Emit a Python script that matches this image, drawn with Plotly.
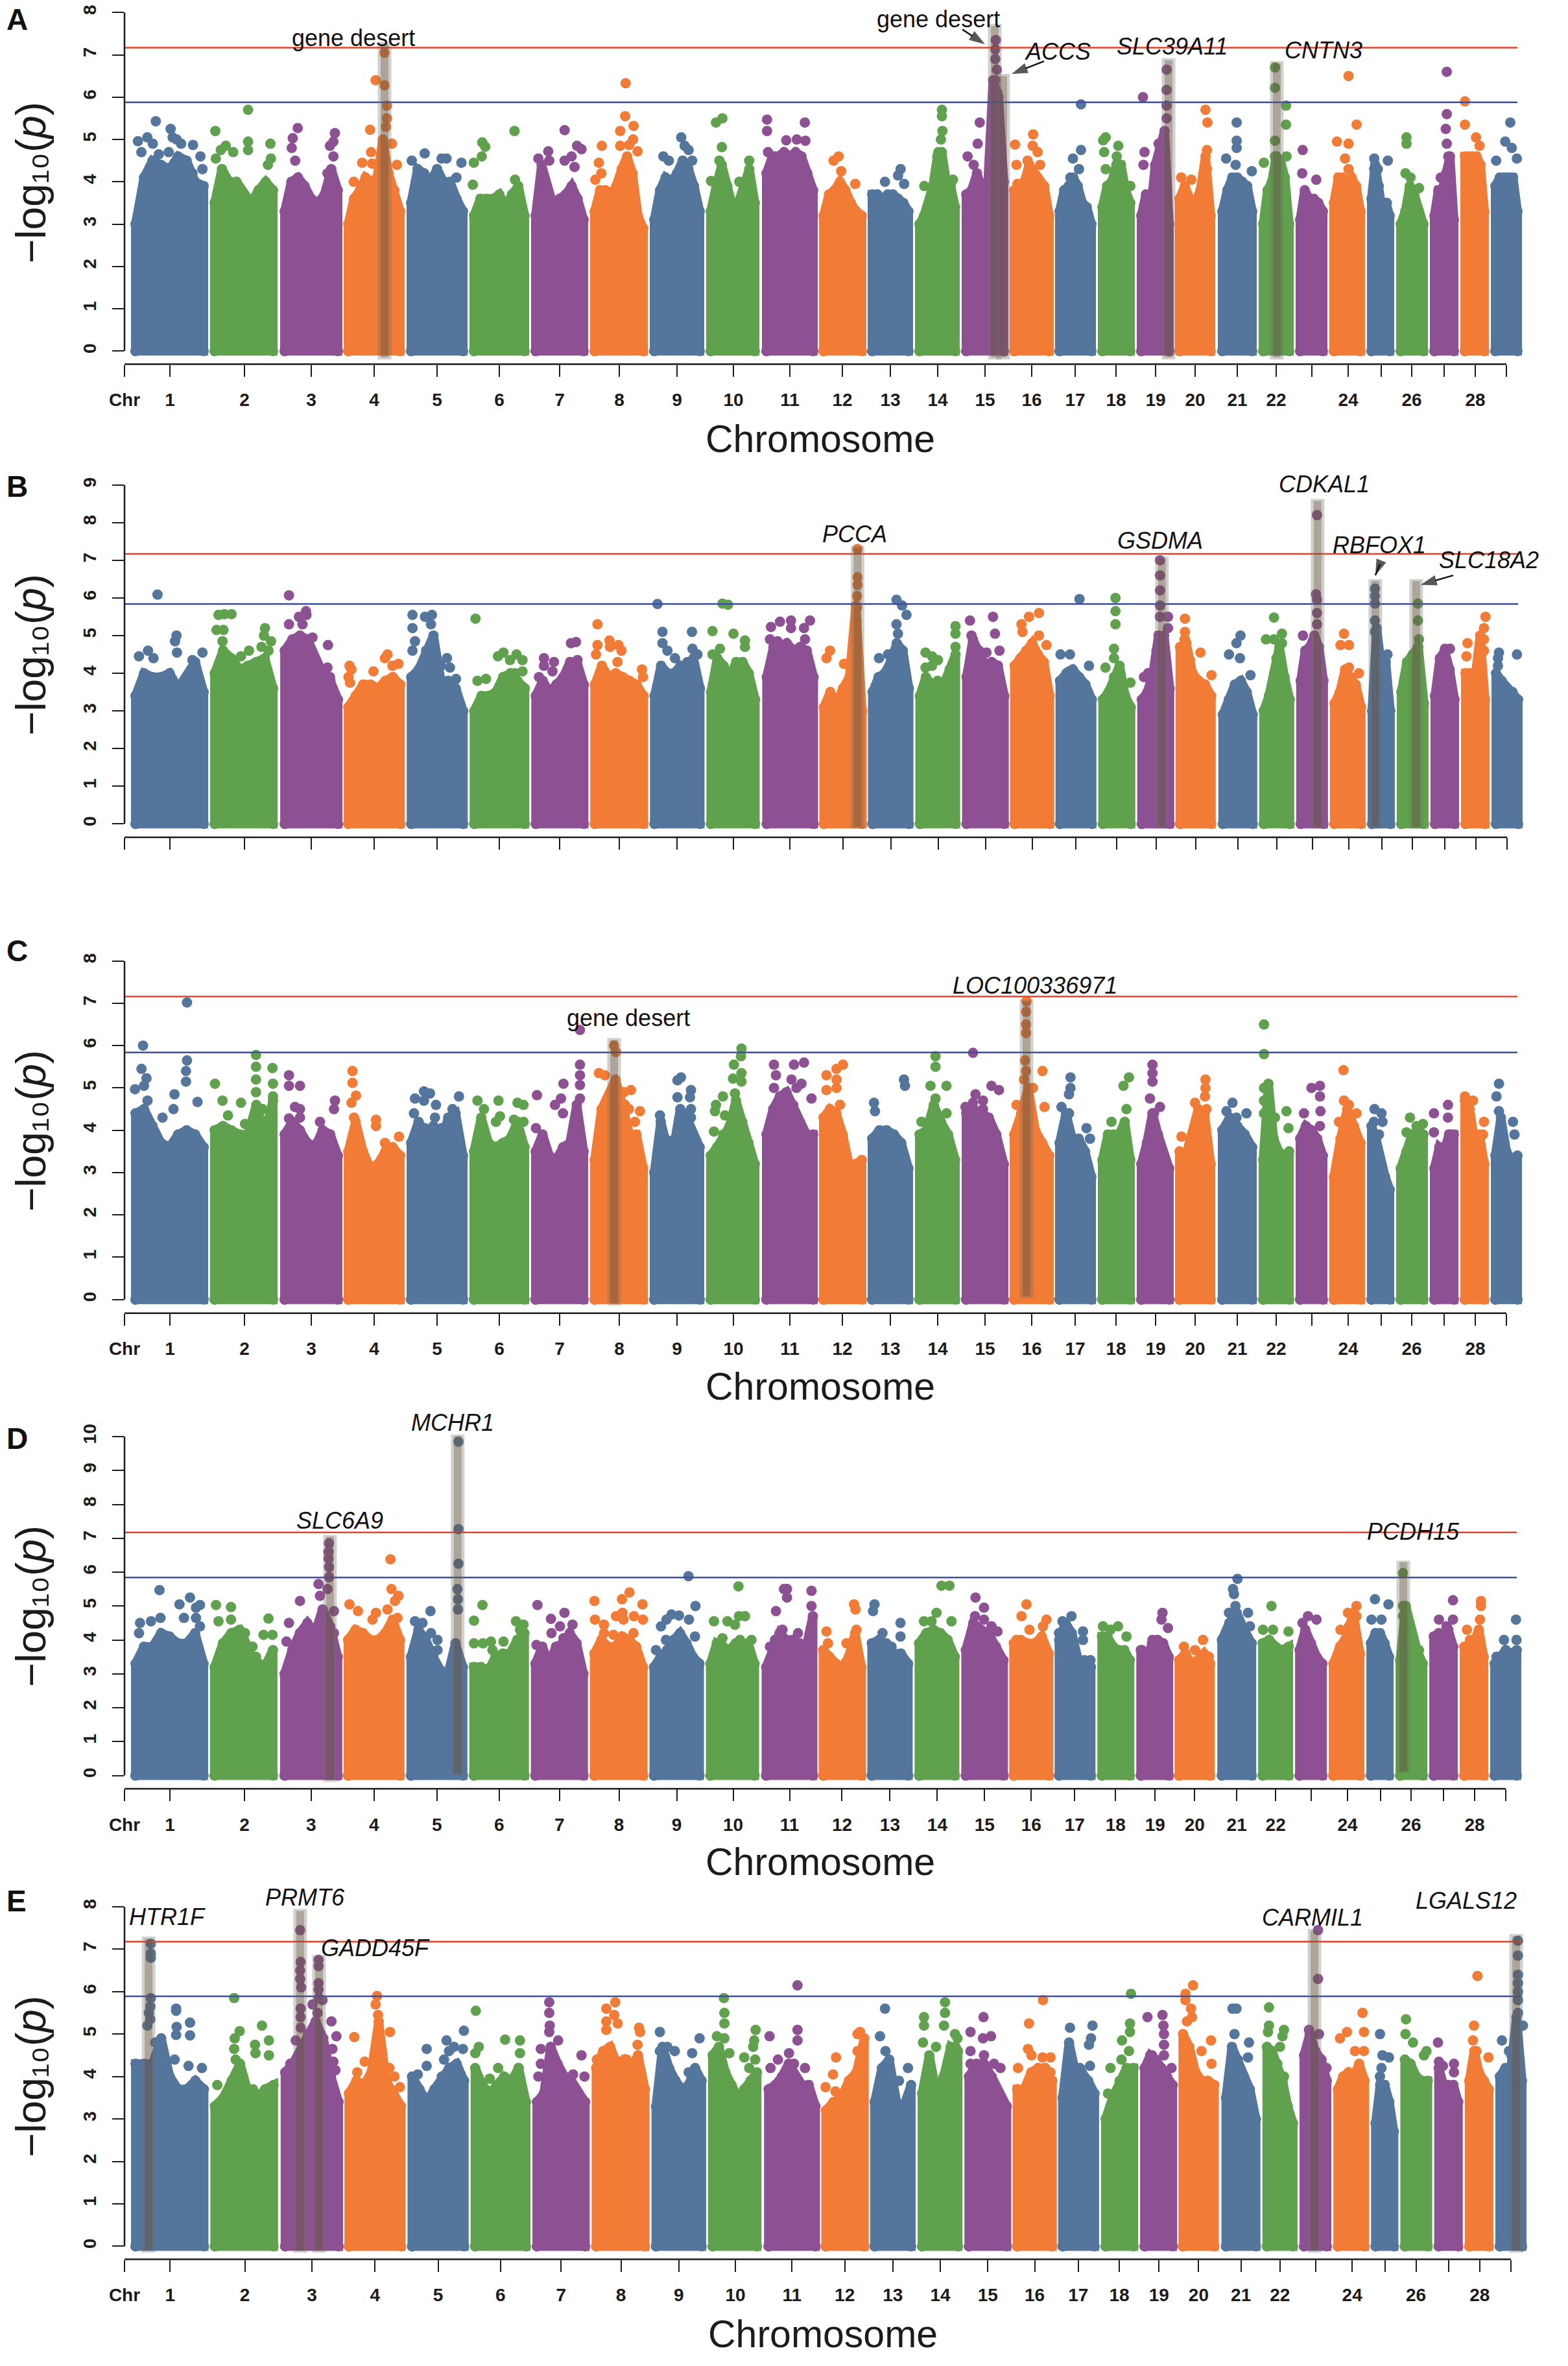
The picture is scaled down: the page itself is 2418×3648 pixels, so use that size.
import numpy as np
import plotly.graph_objects as go

W, H = 2418, 3648
CHR_START = [202,324,432,530,627,724,819,910,1002,1089,1175,1263,1338,1411,1483,1557,1627,1693,1753,1812,1878,1941,1998,2050,2108,2153,2205,2252,2299]
CHR_END = [321,428,528,624,721,816,907,999,1086,1171,1261,1336,1408,1480,1555,1625,1690,1750,1810,1874,1938,1995,2047,2105,2150,2202,2249,2296,2347]
TICK_POS = [192,262,377,480,577,674,770,863,955,1044,1131,1218,1299,1373,1446,1519,1591,1658,1721,1782,1843,1908,1968,2023,2079,2130,2177,2227,2275,2323]
TICK_TEXT = ["Chr","1","2","3","4","5","6","7","8","9","10","11","12","13","14","15","16","17","18","19","20","21","22","","24","","26","","28",""]
COLORS = ["#54759C", "#60A14D", "#8D5193", "#F27B35"]

ENV_A = [[3.0,4.1,4.5,4.4,4.3,4.6,4.5,4.0,3.9],[3.5,4.3,4.0,4.0,3.7,3.5,3.8,4.0,3.8],[3.3,4.0,4.1,3.9,3.6,3.5,3.7,4.3,3.8],[3.0,3.6,3.8,4.1,4.0,4.1,5.0,4.2,3.8,3.3],[3.5,4.3,4.2,4.0,4.3,4.0,4.0,3.6,3.3],[3.2,3.6,3.6,3.6,3.7,3.4,3.7,3.9,3.2],[3.2,4.4,3.8,3.4,3.6,3.7,3.9,3.6,3.1],[3.3,3.8,3.8,3.7,3.9,4.3,4.6,4.2,3.2,2.9],[3.1,3.8,4.1,4.0,4.2,4.5,4.3,3.9,3.3],[3.3,3.9,4.4,3.9,3.4,3.5,3.9,4.3,3.5],[4.2,4.6,4.6,4.7,4.6,4.7,4.6,4.2,3.8],[3.2,3.7,3.8,4.0,3.8,3.5,3.3,3.2],[3.7,3.7,3.6,3.7,3.7,3.6,3.5,3.3],[3.0,3.2,3.5,3.9,4.6,4.7,4.0,3.9,3.4],[3.7,3.8,4.2,3.8,3.9,6.4,6.0,4.0],[3.8,3.9,4.0,4.4,4.2,4.0,3.9,3.2],[3.3,3.8,3.9,4.1,3.9,3.5,3.4,3.0],[3.4,3.9,4.0,4.4,4.4,3.8,3.5],[3.2,3.7,3.3,4.4,4.8,5.2,3.0],[3.6,3.9,3.6,3.5,3.8,4.6,3.2],[3.3,3.8,4.1,4.1,4.0,3.9,3.3],[3.0,3.8,4.0,4.6,4.5,4.1,3.0],[3.1,3.8,3.6,3.6,3.5,3.3],[3.5,4.1,4.1,4.0,4.1,3.9,3.3],[3.6,4.4,3.9,3.3,3.5,3.2],[3.0,3.3,3.9,3.7,3.3,3.0],[3.2,3.8,3.8,4.2,4.6,3.1],[4.6,4.6,4.6,4.6,4.4,3.3],[3.9,4.1,4.1,4.1,4.1,3.3]]
ENV_B = [[3.4,4.0,3.9,3.9,4.0,3.6,3.9,4.3,3.5],[4.0,4.6,4.4,4.1,4.2,4.3,4.4,3.6],[4.6,4.9,5.0,4.9,4.4,4.0,3.8,3.3],[3.1,3.4,3.7,3.7,3.6,3.8,3.9,3.7],[3.9,4.1,4.6,5.0,3.8,3.8,3.6,3.0],[3.0,3.4,3.4,3.5,3.9,4.0,3.8,3.6],[3.4,3.8,3.5,3.7,3.9,4.3,4.3,3.7],[3.7,4.2,3.9,4.0,3.9,3.8,3.7,3.4],[3.4,4.2,4.0,4.0,4.2,4.1,4.4,3.6],[3.5,4.4,4.2,3.9,4.3,4.3,4.0,3.3],[3.9,4.7,4.7,4.8,4.6,4.7,4.6,3.9],[3.1,3.5,3.2,3.6,3.9,5.8,3.0],[3.5,3.9,4.0,4.3,4.8,4.6,3.6],[3.4,3.9,3.7,3.8,3.7,4.1,4.5],[3.9,4.9,4.6,4.2,4.3,4.2,3.4],[4.2,4.4,4.6,4.8,4.5,4.3,3.4],[3.8,4.0,4.1,3.9,3.7,3.3],[3.3,3.5,3.9,4.2,3.4,3.1],[3.3,3.5,4.0,5.0,5.0,3.6],[4.7,4.8,4.0,3.8,3.7,3.4],[2.9,3.3,3.7,3.8,3.5,2.9],[3.0,3.4,4.0,4.7,3.9,3.3],[3.8,4.6,4.7,5.0,4.7,3.8],[3.2,3.5,4.1,3.9,3.7,3.1],[3.0,5.2,4.2,4.3,3.0],[3.5,4.3,4.5,4.7,3.2],[3.4,4.4,4.6,4.1,3.3],[4.0,4.0,3.9,5.0,3.3],[4.0,3.8,3.6,3.5,3.3]]
ENV_C = [[4.4,4.5,4.1,3.7,3.6,3.9,4.0,3.9,3.6],[4.0,4.1,4.0,3.9,3.9,4.6,3.9,4.7],[3.9,4.2,4.0,3.7,3.6,4.0,3.9,3.4],[3.5,4.2,3.5,3.1,3.2,3.5,3.6,3.4],[3.7,4.2,3.9,4.1,3.6,4.3,4.4,3.4],[3.5,4.3,3.7,3.6,3.7,3.8,4.2,3.6],[3.5,3.9,3.4,3.3,3.6,3.7,4.6,3.5],[3.3,4.5,4.8,5.2,4.6,3.9,3.9,3.1],[3.0,4.2,3.6,3.6,4.5,4.3,3.9,3.6],[3.4,3.6,3.9,4.1,4.7,4.2,3.7,3.2],[3.9,4.5,4.8,4.9,4.6,4.2,3.9,3.9],[4.3,4.5,4.4,3.9,3.2,3.2,3.3],[3.8,4.0,4.0,3.9,3.7,3.1],[3.9,4.0,4.6,4.2,3.9,3.3],[4.4,4.5,4.4,4.3,3.9,3.2],[3.9,4.4,5.0,4.0,3.7,3.4],[3.7,4.4,3.8,3.8,3.5,2.9],[3.3,3.9,3.9,3.9,4.2,3.3],[3.2,3.7,4.4,3.9,3.4,3.1],[3.5,3.4,3.9,4.5,4.4,3.2],[4.0,4.3,4.1,3.9,3.6],[3.3,5.1,3.8,3.5,3.4,3.5],[3.8,4.1,4.0,3.8,3.4],[2.9,3.8,4.5,4.1,3.7],[4.1,3.8,3.2,2.9,2.6],[3.1,3.5,3.9,4.0,3.9],[3.1,3.6,3.5,3.9,3.9],[4.7,4.5,3.7,3.9,3.2],[3.4,4.3,3.5,3.3,3.4]]
ENV_D = [[3.3,3.8,3.8,4.2,4.1,3.9,3.9,4.2,3.3],[3.2,3.9,4.2,4.3,3.8,3.1,3.2,3.7],[3.0,3.7,4.2,4.5,4.2,4.9,4.4,3.5],[4.0,4.3,4.2,4.0,4.0,4.2,4.6,4.0],[3.5,4.3,4.0,3.5,3.1,3.0,3.9,3.2],[3.2,3.2,3.1,3.5,3.6,3.6,4.0,4.2],[3.3,3.8,3.3,3.8,3.9,4.2,3.9,3.0],[3.6,4.0,3.8,3.8,4.1,4.0,3.8,3.2],[3.2,3.5,3.7,4.0,4.2,3.9,3.5,3.3],[3.3,3.9,3.8,3.7,3.9,3.9,3.9,3.3],[3.2,3.7,4.2,4.0,4.0,3.9,3.8,4.7],[3.7,3.5,3.3,3.2,3.5,4.2,3.2],[3.9,4.0,3.9,3.6,3.6,3.3],[3.9,4.2,4.3,4.2,4.0,3.5],[3.7,4.5,4.3,4.2,3.8,3.4],[3.9,4.0,3.9,3.9,4.1,3.6],[4.0,4.5,4.2,3.4,3.4,3.2],[4.1,4.1,3.8,3.7,3.7,3.4],[3.7,3.3,3.9,4.0,3.9,3.5],[3.4,3.6,3.3,3.4,3.6,3.3],[4.0,4.5,4.8,4.3,3.9],[3.9,4.0,3.8,3.7,3.8],[3.7,4.3,3.9,3.5,3.3],[3.3,3.8,4.1,4.8,3.6],[3.9,4.2,4.2,3.9,3.5],[3.4,5.0,4.2,3.7,3.3],[4.1,4.2,4.2,4.3,3.8],[3.8,3.6,4.0,4.3,3.5],[3.3,3.5,3.7,3.6,3.7]]
ENV_E = [[4.3,4.3,4.3,4.9,4.0,3.7,3.7,3.9,3.7],[3.3,3.5,3.9,4.3,3.6,3.5,3.7,3.8],[4.1,4.3,4.6,5.0,5.3,4.9,4.0,3.4],[3.6,3.9,3.8,4.1,5.3,3.9,3.6,3.3],[4.0,3.7,3.4,3.7,4.0,4.2,4.3,3.9],[4.2,3.8,3.6,3.8,4.0,3.9,4.2,3.4],[3.4,3.6,4.7,4.3,4.0,3.9,3.6,3.4],[4.2,4.6,4.7,4.3,4.4,4.2,4.5,3.7],[3.3,4.7,4.2,3.9,3.7,3.8,4.2,3.9],[4.5,4.7,4.1,3.8,3.5,3.7,3.9,4.1],[3.7,3.8,4.0,4.3,4.0,3.8,3.8,3.3],[3.2,3.4,3.5,3.9,4.1,4.9],[3.4,4.2,4.4,3.4,3.3,3.8],[3.6,4.5,3.6,4.0,4.7,4.6],[4.0,4.3,4.3,4.0,3.6,3.3],[3.7,3.7,4.1,4.2,4.2,3.9],[3.5,4.8,4.1,4.1,3.9,3.6],[3.0,3.5,3.9,4.2,4.2],[4.2,4.5,4.4,4.2,4.0,3.8],[5.0,4.7,4.1,3.9,3.9,3.8],[3.5,4.7,4.4,4.0,3.7,3.0],[4.7,4.6,4.3,3.9,3.3,2.9],[4.5,5.0,4.6,4.4,3.9],[3.7,4.0,4.1,4.0,4.3,3.9],[2.9,3.8,3.8,3.4,2.7],[4.4,4.3,4.0,3.9,3.9],[4.2,3.8,3.8,3.8,3.4],[3.9,4.6,4.1,3.9,3.7],[4.0,4.2,4.2,5.4,3.9]]

PTS_A_L = [(278,4.96),(297,5.05),(314,5.43),(308,4.9),(344,5.25),(348,5.05),(356,5.0),(365,4.9),(389,4.87),(404,4.6),(408,4.3),(340,4.7),(285,4.7),(320,4.65),(388,4.2),(434,5.2),(500,5.7),(500,4.95),(500,4.75),(545,4.9),(546,4.55),(540,4.4),(445,4.75),(455,4.85),(470,4.7),(435,4.55),(600,5.27),(590,5.03),(588,4.8),(675,5.15),(672,4.95),(665,4.85),(672,4.6),(660,4.2),(595,4.5),(757,6.4),(775,6.28),(775,7.05),(746,5.23),(748,4.7),(790,4.9),(800,4.4),(730,4.45),(750,4.43),(713,4.0),(780,5.8),(780,5.5),(778,5.3),(856,4.67),(830,4.5),(890,4.55),(900,4.55),(930,4.45),(920,4.1),(1037,5.2),(972,4.93),(978,4.83),(971,4.6),(955,4.45),(953,3.93),(1038,4.05),(1138,5.22),(1105,4.72),(1107,4.5),(1085,4.55),(1163,4.85),(1172,4.77),(1138,4.5),(1152,4.6),(1158,4.35),(1261,6.33),(1260,5.55),(1277,5.32),(1250,5.2),(1276,5.0),(1213,4.85),(1250,4.85),(1268,4.87),(1285,4.72),(1207,4.45),(1212,4.2),(1200,4.05),(1373,5.05),(1380,4.85),(1388,4.75),(1337,4.6),(1348,4.5),(1395,4.5),(1443,5.4),(1456,5.5),(1455,4.82),(1510,4.5),(1450,4.5),(1433,4.02),(1490,4.0),(1546,5.47),(1546,5.2),(1548,4.7),(1562,4.6)]
PTS_A_R = [(53,5.4),(16,4.98),(37,5.0),(54,4.97),(120,4.6),(110,4.5),(125,4.25),(153,3.95),(243,4.3),(238,4.15),(212,4.0),(250,3.95),(325,5.7),(325,5.55),(326,5.2),(323,5.0),(318,4.7),(347,4.05),(290,3.9),(400,5.4),(396,4.9),(376,4.6),(388,4.4),(432,7.35),(431,7.13),(431,6.9),(434,6.65),(431,6.4),(435,6.1),(434,5.8),(435,5.5),(506,5.12),(470,4.88),(505,4.85),(515,4.7),(495,4.5),(520,4.4),(473,4.4),(475,3.95),(601,5.83),(601,4.75),(585,4.55),(597,4.3),(580,4.1),(650,5.05),(645,4.98),(675,4.85),(647,4.7),(672,4.6),(650,4.3),(699,3.9),(724,6.0),(771,6.65),(771,6.17),(771,5.8),(771,5.5),(755,4.9),(727,4.7),(753,4.5),(725,4.4),(848,5.7),(852,5.4),(851,4.75),(820,4.05),(800,4.1),(851,4.3),(910,5.4),(910,4.97),(910,4.8),(889,4.55),(940,4.25),(908,4.4),(986,6.7),(986,6.22),(1008,5.8),(1008,5.35),(986,4.97),(986,4.6),(1009,4.6),(964,4.45),(1041,4.75),(1040,4.2),(1068,4.05),(1132,6.5),(1148,5.35),(1109,4.95),(1132,4.9),(1125,4.55),(1132,4.3),(1183,4.55),(1210,4.5),(1190,4.3),(1183,4.3),(1208,3.5),(1247,5.05),(1247,4.9),(1245,4.2),(1255,4.1),(1272,3.85),(1327,6.6),(1327,5.6),(1325,5.25),(1327,4.9),(1330,4.6),(1315,4.1),(1363,5.9),(1363,5.35),(1385,5.05),(1392,4.85),(1453,5.4),(1443,4.95),(1456,4.8),(1466,4.55),(1425,4.5)]
PTS_B_L = [(315,6.09),(278,4.45),(296,4.6),(307,4.4),(353,5.0),(350,4.85),(354,4.55),(385,4.35),(405,4.55),(338,3.95),(437,5.55),(449,5.57),(463,5.57),(433,5.15),(447,5.15),(445,4.85),(530,5.2),(528,5.0),(542,4.85),(523,4.7),(498,4.6),(482,4.45),(537,4.6),(578,6.07),(612,5.65),(598,5.5),(613,5.55),(578,5.3),(605,5.3),(625,4.95),(656,4.75),(655,4.15),(660,3.9),(699,4.2),(703,4.1),(697,3.9),(700,3.75),(775,4.5),(770,4.4),(797,4.25),(747,4.05),(785,4.2),(825,5.55),(825,5.2),(850,5.5),(864,5.55),(862,5.3),(830,4.85),(825,4.6),(894,4.4),(900,4.15),(882,4.2),(912,3.85),(951,5.45),(1007,4.55),(1033,4.5),(1045,4.35),(1020,4.35),(996,4.45),(1045,4.05),(955,3.8),(972,3.85),(1030,4.0),(1152,4.83),(1142,4.8),(1155,4.35),(1088,4.4),(1108,4.3),(1105,4.05),(1088,4.2),(1078,3.9),(1195,5.3),(1219,4.87),(1195,4.75),(1237,4.75),(1243,4.6),(1220,4.7),(1235,4.3),(1284,4.1),(1192,4.5),(1286,3.9),(1315,5.84),(1325,5.1),(1384,5.1),(1325,4.8),(1335,4.6),(1385,4.65),(1395,4.5),(1350,4.4),(1375,4.3),(1445,5.85),(1456,5.82),(1425,5.12),(1467,5.05),(1490,4.87),(1440,4.65),(1490,4.7),(1425,4.5),(1560,5.37),(1542,5.23),(1540,4.9),(1555,4.85)]
PTS_B_R = [(14,5.4),(14,5.2),(40,5.2),(52,5.4),(42,4.9),(92,4.6),(85,4.4),(120,4.25),(147,7.3),(147,6.55),(147,6.35),(146,6.05),(146,5.75),(145,5.4),(225,5.95),(236,5.8),(245,5.55),(225,5.3),(228,5.05),(190,4.4),(208,4.5),(343,5.25),(343,5.05),(343,4.7),(283,4.55),(308,4.35),(296,4.45),(283,4.15),(296,4.2),(372,5.4),(418,5.5),(422,5.05),(405,4.55),(431,4.6),(375,5.0),(510,5.6),(490,5.5),(475,5.3),(477,5.1),(510,5.0),(525,4.75),(591,5.97),(553,4.5),(572,4.5),(610,4.2),(570,4.05),(663,6.0),(663,5.65),(663,5.3),(660,4.65),(643,4.15),(693,3.75),(660,4.4),(752,7.0),(752,6.6),(752,6.2),(752,5.8),(752,5.5),(768,5.5),(768,5.2),(728,4.0),(720,3.9),(745,4.6),(802,5.45),(802,5.1),(801,4.9),(833,4.55),(812,4.35),(855,3.95),(913,5.0),(905,4.8),(890,4.5),(912,4.4),(933,3.95),(980,5.48),(996,5.05),(964,4.9),(980,4.9),(996,4.8),(985,4.4),(1066,8.2),(1064,6.1),(1066,5.95),(1066,5.6),(1066,5.3),(1038,5.0),(1120,5.05),(1113,4.75),(1130,4.75),(1130,4.15),(1150,4.0),(1182,6.25),(1182,6.05),(1182,5.85),(1182,5.4),(1182,5.1),(1207,4.5),(1268,5.85),(1268,5.4),(1270,4.9),(1268,4.7),(1322,4.65),(1332,4.65),(1316,4.4),(1403,5.5),(1400,5.2),(1367,4.8),(1400,4.9),(1365,4.45),(1400,4.6),(1430,4.55),(1428,4.4),(1466,4.5),(1428,4.2)]
PTS_C_L = [(286,6.0),(374,7.02),(283,5.45),(293,5.23),(270,4.97),(288,5.05),(374,5.65),(372,5.4),(372,5.15),(349,4.85),(395,4.67),(325,4.3),(347,4.5),(295,4.7),(512,5.78),(430,5.1),(512,5.5),(512,5.2),(545,5.47),(546,5.1),(445,4.7),(482,4.65),(456,4.35),(525,4.5),(490,4.15),(512,4.9),(546,4.8),(578,5.3),(578,5.05),(600,5.05),(670,4.7),(668,4.5),(590,4.55),(600,4.5),(578,4.28),(600,4.3),(640,4.2),(625,3.65),(705,5.4),(705,5.12),(712,4.82),(703,4.65),(752,4.25),(752,4.1),(708,4.3),(798,3.85),(770,3.7),(848,4.92),(860,4.87),(830,4.75),(848,4.7),(872,4.6),(918,4.8),(905,4.5),(828,4.4),(870,4.3),(850,4.05),(883,4.05),(955,4.7),(997,4.7),(1035,4.65),(1047,4.6),(968,4.5),(1000,4.33),(992,4.2),(1028,4.25),(1047,4.2),(1160,6.37),(1160,5.55),(1160,5.3),(1160,5.07),(1127,5.1),(1074,4.83),(1122,4.75),(1110,4.6),(1160,4.75),(1072,4.05),(1126,4.4),(1228,6.0),(1232,5.85),(1198,5.35),(1210,5.3),(1262,4.95),(1248,4.9),(1250,4.6),(1258,4.5),(1280,4.45),(1270,4.2),(1362,5.25),(1355,5.18),(1382,4.95),(1355,4.78),(1380,4.78),(1382,4.5),(1320,4.35),(1382,4.3),(1340,3.75),(1483,5.93),(1482,5.75),(1468,5.55),(1483,5.35),(1466,5.22),(1483,5.15),(1470,4.87),(1446,4.8),(1432,4.6),(1430,4.45),(1428,3.97),(1450,4.35),(1548,5.55),(1552,5.3),(1548,5.0),(1568,4.75)]
PTS_C_R = [(20,5.55),(40,5.6),(15,5.2),(35,5.1),(25,5.0),(55,4.75),(118,5.55),(105,5.45),(85,5.3),(105,5.2),(85,4.95),(105,5.0),(112,4.6),(240,5.2),(242,5.05),(180,4.65),(182,4.45),(303,5.75),(303,5.5),(293,5.05),(325,5.05),(303,4.75),(275,4.2),(325,4.4),(378,5.83),(415,5.05),(430,4.95),(383,4.85),(398,4.7),(378,4.65),(363,4.55),(398,4.5),(485,7.05),(484,6.8),(484,6.5),(484,6.3),(482,5.65),(484,5.4),(517,5.4),(498,5.0),(521,4.55),(465,4.6),(480,5.2),(573,5.25),(573,5.0),(570,4.85),(555,4.55),(570,4.4),(605,4.05),(612,3.8),(690,5.25),(679,5.05),(685,4.5),(655,4.2),(737,5.55),(737,5.35),(737,5.15),(732,4.75),(752,4.55),(740,4.4),(843,5.2),(843,5.0),(842,4.8),(822,4.65),(845,4.5),(795,3.85),(897,4.65),(885,4.45),(925,4.4),(905,4.3),(960,6.5),(960,5.8),(960,5.0),(960,4.7),(1005,4.45),(982,4.3),(1009,4.05),(960,4.4),(1055,5.0),(1072,5.05),(1072,4.8),(1073,4.45),(1040,4.4),(1072,4.1),(1119,5.42),(1120,4.7),(1130,4.6),(1145,4.4),(1110,4.2),(1181,4.5),(1195,4.4),(1197,4.2),(1180,4.2),(1190,3.9),(1252,4.3),(1278,4.15),(1265,4.1),(1245,3.95),(1328,4.6),(1300,4.4),(1328,4.3),(1300,3.95),(1332,3.9),(1362,4.8),(1378,4.7),(1365,4.6),(1400,4.2),(1398,3.9),(1430,5.1),(1425,4.8),(1430,4.45),(1458,4.2),(1461,3.9)]
PTS_D_L = [(319,5.47),(380,5.25),(359,5.05),(400,5.03),(392,4.95),(280,4.5),(302,4.55),(321,4.65),(368,4.65),(392,4.65),(278,4.2),(400,4.4),(432,5.03),(462,4.97),(437,4.55),(537,4.63),(462,4.6),(490,4.2),(527,4.15),(545,4.15),(505,3.8),(512,3.5),(518,3.3),(637,5.65),(640,5.3),(600,5.15),(658,6.85),(657,6.6),(657,6.4),(658,6.15),(658,5.85),(655,5.5),(578,4.5),(668,4.85),(668,4.2),(573,3.95),(781,6.38),(783,5.5),(797,5.3),(790,5.15),(699,5.05),(716,4.85),(775,4.9),(752,4.8),(745,4.6),(795,4.65),(861,4.85),(830,4.55),(845,4.5),(862,4.2),(875,4.0),(875,3.7),(917,9.85),(917,7.27),(917,6.25),(915,5.5),(916,5.2),(916,4.9),(860,3.6),(965,5.03),(948,4.57),(1032,4.55),(1047,4.45),(948,3.9),(966,3.9),(982,3.95),(1007,3.95),(985,3.7),(1040,4.3),(1075,5.03),(1129,4.8),(1102,4.62),(1120,4.4),(1145,4.45),(1103,4.2),(1127,4.05),(1073,3.85),(1259,5.4),(1189,5.15),(1244,5.2),(1285,5.05),(1245,4.8),(1190,4.6),(1208,4.45),(1232,4.7),(1247,4.6),(1268,4.7),(1286,4.6),(1208,4.2),(1227,4.15),(1267,4.2),(1377,5.88),(1391,5.0),(1343,4.75),(1358,4.72),(1333,4.6),(1378,4.6),(1322,4.4),(1390,4.1),(1332,4.0),(1312,3.7),(1477,5.58),(1428,4.55),(1478,4.7),(1490,4.7),(1455,4.55),(1470,4.45),(1445,4.05),(1503,4.0),(1480,4.0),(1568,5.5),(1552,4.85),(1565,4.3),(1550,4.0),(1540,3.8)]
PTS_D_R = [(6,5.5),(6,5.25),(55,5.45),(55,5.0),(28,4.2),(140,5.05),(143,4.9),(145,4.3),(85,4.25),(88,3.9),(125,3.9),(181,5.05),(178,4.85),(233,4.5),(197,4.2),(233,4.1),(215,3.8),(315,5.6),(331,5.6),(305,4.8),(280,4.55),(295,4.55),(335,4.55),(383,5.25),(400,4.95),(382,4.7),(400,4.6),(427,4.25),(415,4.4),(485,5.05),(475,4.7),(525,4.6),(518,4.4),(491,4.3),(465,4.0),(575,4.7),(557,4.55),(598,4.25),(598,4.0),(550,4.2),(613,3.4),(638,4.4),(668,4.4),(653,4.3),(685,4.1),(640,4.0),(757,4.8),(755,4.6),(768,4.35),(737,4.0),(716,3.7),(800,3.8),(838,4.0),(822,3.7),(850,3.5),(907,5.8),(898,5.5),(900,5.35),(903,5.0),(928,4.8),(890,4.8),(932,4.4),(975,5.0),(958,4.3),(978,4.3),(1009,4.25),(1048,4.7),(1065,4.6),(1037,4.5),(1145,5.0),(1128,4.8),(1130,4.4),(1113,4.3),(1145,4.7),(1182,5.2),(1209,5.05),(1175,4.6),(1195,4.6),(1238,5.97),(1238,5.0),(1238,4.7),(1245,4.5),(1270,3.7),(1338,5.17),(1310,4.6),(1338,4.6),(1325,4.4),(1394,5.15),(1394,5.0),(1366,4.3),(1392,4.6),(1372,4.0),(1464,4.6),(1440,4.0),(1465,4.0),(1425,3.5)]
PTS_E_L = [(304,7.13),(304,6.9),(304,6.8),(304,5.85),(303,5.65),(300,5.5),(303,5.35),(297,5.2),(355,5.6),(355,5.55),(356,5.17),(383,5.27),(355,4.98),(383,4.97),(352,4.4),(380,4.25),(407,4.2),(313,4.8),(472,5.85),(528,5.2),(483,5.07),(473,4.9),(542,4.85),(514,4.75),(472,4.65),(515,4.55),(542,4.5),(438,3.8),(475,4.4),(490,4.0),(510,3.7),(605,7.45),(606,6.7),(605,6.5),(605,6.3),(607,6.1),(606,5.6),(606,5.4),(606,5.15),(642,6.75),(642,6.6),(642,6.2),(642,6.05),(642,5.85),(630,5.7),(650,5.8),(640,5.5),(668,5.3),(596,4.85),(678,4.95),(670,4.65),(672,4.35),(585,4.3),(676,4.15),(760,5.9),(757,5.7),(762,5.45),(714,4.93),(786,5.05),(735,4.35),(785,4.2),(795,4.0),(806,3.75),(720,4.1),(935,5.08),(900,4.85),(860,4.65),(915,4.7),(905,4.6),(933,4.65),(895,4.4),(860,4.25),(842,4.05),(959,5.55),(1018,4.87),(1048,4.85),(965,4.7),(958,4.55),(1048,4.55),(1004,4.2),(1045,4.2),(987,3.95),(1107,5.75),(1107,5.5),(1108,5.2),(1107,5.05),(1125,4.85),(1090,4.65),(1172,4.5),(1090,4.3),(1085,4.0),(1178,4.0),(1155,4.05),(1240,5.75),(1222,5.6),(1238,5.45),(1222,5.3),(1245,5.25),(1288,5.15),(1290,5.05),(1222,5.1),(1203,4.4),(1263,4.4),(1285,4.75),(1330,5.05),(1345,4.7),(1360,4.6),(1410,4.9),(1395,4.55),(1330,4.6),(1388,4.1),(1459,5.85),(1460,5.5),(1460,5.25),(1523,5.1),(1445,4.95),(1460,4.9),(1520,4.85),(1518,4.7),(1470,4.55),(1500,4.45),(1522,4.4),(1510,4.2),(1551,4.95),(1553,4.2),(1568,4.4)]
PTS_E_R = [(27,6.15),(27,5.1),(27,4.85),(10,4.55),(20,4.3),(42,4.2),(147,5.0),(152,5.05),(147,4.6),(104,4.45),(98,4.05),(83,3.75),(103,3.65),(202,5.6),(192,4.95),(203,4.6),(248,4.2),(230,3.9),(322,5.75),(322,5.5),(280,5.4),(280,5.2),(320,5.2),(342,5.0),(347,4.9),(278,4.8),(304,4.7),(343,4.7),(399,5.4),(373,5.05),(414,4.95),(398,4.9),(373,4.6),(373,4.3),(400,4.5),(433,4.2),(420,4.3),(518,5.8),(490,5.25),(488,4.65),(533,4.45),(517,4.45),(468,4.2),(533,4.1),(495,4.5),(572,5.15),(617,5.2),(614,4.9),(610,4.75),(612,4.25),(592,4.2),(694,5.95),(692,5.25),(692,5.05),(676,4.85),(690,4.6),(675,4.4),(653,4.2),(648,3.6),(727,5.4),(757,5.45),(759,5.2),(760,5.0),(760,4.75),(736,4.5),(760,4.5),(775,4.2),(818,6.15),(803,5.95),(803,5.8),(814,5.6),(816,5.4),(806,5.3),(854,4.85),(835,4.6),(855,4.3),(897,5.6),(905,5.6),(901,5.0),(930,4.8),(928,4.45),(970,5.63),(970,5.2),(1000,5.1),(968,5.05),(997,4.95),(992,4.7),(1000,4.0),(1068,7.45),(1068,6.3),(1050,5.1),(1070,5.0),(1075,4.4),(1085,4.2),(1157,5.5),(1126,5.05),(1160,5.05),(1112,4.9),(1142,4.6),(1160,4.6),(1192,5.0),(1197,4.5),(1210,4.45),(1195,4.2),(1192,4.0),(1244,5.35),(1243,5.0),(1258,4.8),(1285,4.6),(1280,4.5),(1308,4.8),(1340,4.3),(1318,4.25),(1310,4.35),(1340,4.1),(1387,6.37),(1380,5.2),(1378,4.85),(1385,4.6),(1409,4.45),(1468,7.2),(1468,6.85),(1468,6.4),(1468,6.2),(1468,6.0),(1468,5.8),(1468,5.5),(1478,5.2),(1436,4.85),(1450,4.6),(1455,4.5)]

# (genomic position, top, bottom)
BANDS_A = [(593,7.3,-0.2),(1534,7.73,-0.2),(1547,6.55,-0.2),(1802,6.92,-0.2),(1969,6.85,-0.2)]
BANDS_B = [(1322,7.38,-0.13),(1791,7.1,-0.13),(2031,8.63,-0.13),(2120,6.5,-0.13),(2183,6.5,-0.13)]
BANDS_C = [(947,6.18,-0.14),(1583,7.09,0.03)]
BANDS_D = [(509,7.1,-0.19),(706,10.06,0),(2165,6.34,0.07)]
BANDS_E = [(229,7.3,-0.15),(462,7.95,-0.15),(491,6.86,-0.15),(2021,7.48,-0.15),(2331,7.36,-0.15)]

RED_LINE = [7.17, 7.17, 7.16, 7.17, 7.18]
BLUE_LINE = [5.88, 5.84, 5.84, 5.84, 5.89]
LETTERS = ["A", "B", "C", "D", "E"]
YMAX = [8, 9, 8, 10, 8]
Y0_PX = [541.3, 1270.3, 2003.7, 2737.5, 3463.4]
YTOP_PX = [19.3, 747.8, 1481.7, 2215, 2940]
AXIS_PX = [561.6, 1291, 2024.7, 2758, 3483.5]
XEND_PX = [2323, 2324, 2323, 2322, 2330]
YTITLE_PX = [282, 1010, 1744, 2477, 3202]
LETTER_PX = [30, 750, 1466, 2218, 2931]
XTITLE = [(1265, 677), None, (1265, 2138), (1265, 2871), (1269, 3599)]
LABELS = [
    [("gene desert",545,58,False),("gene desert",1447,29,False),("ACCS",1631,80,True),("SLC39A11",1807,71,True),("CNTN3",2041,77,True)],
    [("PCCA",1318,824,True),("GSDMA",1789,833,True),("CDKAL1",2042,746,True),("RBFOX1",2127,840,True),("SLC18A2",2296,864,True)],
    [("gene desert",969,1569,False),("LOC100336971",1596,1519,True)],
    [("SLC6A9",524,2344,True),("MCHR1",698,2193,True),("PCDH15",2179,2361,True)],
    [("HTR1F",258,2955,True),("PRMT6",470,2925,True),("GADD45F",579,3003,True),("CARMIL1",2024,2956,True),("LGALS12",2261,2930,True)],
]
# panel, tail x, tail value, head x, head value
ARROWS = [(0,1484,7.6,1519,7.25),(0,1610,6.85,1560,6.55),(1,2127,6.9,2120,6.6),(1,2240,6.6,2190,6.35)]

PANELS = [
    (ENV_A, PTS_A_L, PTS_A_R, BANDS_A, (1.307, 0, 1.287, 1200)),
    (ENV_B, PTS_B_L, PTS_B_R, BANDS_B, (1.297, 0, 1.297, 1209)),
    (ENV_C, PTS_C_L, PTS_C_R, BANDS_C, (1.297, 0, 1.297, 1209)),
    (ENV_D, PTS_D_L, PTS_D_R, BANDS_D, (1.297, 0, 1.297, 1209)),
    (ENV_E, PTS_E_L, PTS_E_R, BANDS_E, (1.307, 0, 1.297, 1209)),
]

FONT = "Liberation Sans"
INK = "#1c1a1a"
RAD = 7
XMAX = 2352
PAD_LOW, PAD_HIGH = 0.3, 0.2
fig = go.Figure()
ann = []
shp = []

def px(x): return x / W
def py(y): return 1 - y / H

LAB_POS = [p for p, t in zip(TICK_POS, TICK_TEXT) if t]
LAB_TXT = [t for t in TICK_TEXT if t]
OTHER_POS = [p for p, t in zip(TICK_POS, TICK_TEXT) if not t]

for i, (env, left, right, bands, (kl, ol, kr, orr)) in enumerate(PANELS):
    n = "" if i == 0 else str(i + 1)
    xa, ya = "x" + n, "y" + n
    stretch = (XEND_PX[i] - 192) / (TICK_POS[-1] - 192)
    unit = (Y0_PX[i] - YTOP_PX[i]) / YMAX[i]
    def unstretch(p):
        return 192 + (np.asarray(p, float) - 192) / stretch
    fig.update_layout(**{
        "xaxis" + n: dict(domain=[px(192), px(192 + (XMAX - 192) * stretch)], range=[192, XMAX], anchor="free",
                          position=py(AXIS_PX[i]), showgrid=False, zeroline=False, showline=False,
                          ticks="outside", ticklen=18, tickwidth=2, tickcolor=INK, tickmode="array", tickvals=LAB_POS,
                          ticktext=LAB_TXT, tickangle=0, ticklabelstandoff=12,
                          minor=dict(tickmode="array", tickvals=OTHER_POS, ticks="outside", ticklen=18, tickwidth=2, tickcolor=INK, showgrid=False),
                          tickfont=dict(family=FONT, size=28, color=INK, weight=700), showticklabels=i != 1),
        "yaxis" + n: dict(domain=[py(Y0_PX[i] + PAD_LOW * unit), py(YTOP_PX[i] - PAD_HIGH * unit)],
                          range=[-PAD_LOW, YMAX[i] + PAD_HIGH], anchor=xa,
                          showgrid=False, zeroline=False, showline=False,
                          ticks="outside", ticklen=18, tickwidth=2, tickcolor=INK, dtick=1, tick0=0,
                          tickangle=-90, ticklabelstandoff=14,
                          tickfont=dict(family=FONT, size=28, color=INK, weight=700)),
    })
    # R-style axis lines that stop at the first and last tick
    shp.append(dict(type="line", xref=xa, yref="paper", x0=192, x1=TICK_POS[-1], y0=py(AXIS_PX[i]), y1=py(AXIS_PX[i]),
                    line=dict(color=INK, width=2.5)))
    shp.append(dict(type="line", xref="paper", yref=ya, x0=px(192), x1=px(192), y0=0, y1=YMAX[i],
                    line=dict(color=INK, width=2.5)))
    for c in range(29):
        xs = np.linspace(CHR_START[c] + RAD, CHR_END[c] - RAD, len(env[c]))
        fig.add_trace(go.Scatter(
            x=[xs[0]] + list(xs) + [xs[-1], xs[0]], y=[0] + list(env[c]) + [0, 0],
            xaxis=xa, yaxis=ya, mode="lines+markers", fill="toself", fillcolor=COLORS[c % 4],
            marker=dict(size=16, color=COLORS[c % 4], line=dict(width=0)),
            line=dict(color=COLORS[c % 4], width=RAD * 2), cliponaxis=False, showlegend=False, hoverinfo="skip"))
    pos = np.array([p[0] / kl + ol for p in left] + [p[0] / kr + orr for p in right])
    vals = [p[1] for p in left] + [p[1] for p in right]
    pos = unstretch(pos)
    idx = np.clip(np.searchsorted(np.array(CHR_START), pos, side="right") - 1, 0, 28)
    fig.add_trace(go.Scatter(x=pos, y=vals, xaxis=xa, yaxis=ya, mode="markers", cliponaxis=False,
                             marker=dict(size=16, color=[COLORS[k % 4] for k in idx], line=dict(width=0)),
                             showlegend=False, hoverinfo="skip"))
    line_end = 2340
    for yv, col in ((RED_LINE[i], "#E5432C"), (BLUE_LINE[i], "#3F4E9E")):
        fig.add_trace(go.Scatter(x=[192, line_end], y=[yv, yv], xaxis=xa, yaxis=ya, mode="lines", cliponaxis=False,
                                 line=dict(color=col, width=2.5), showlegend=False, hoverinfo="skip"))
    for b in bands:
        fig.add_trace(go.Scatter(x=[b[0], b[0]], y=[b[2], b[1]], xaxis=xa, yaxis=ya, mode="lines", cliponaxis=False,
                                 line=dict(color="rgba(110,110,105,0.32)", width=21), showlegend=False, hoverinfo="skip"))
        fig.add_trace(go.Scatter(x=[b[0], b[0]], y=[b[2] + 0.05, b[1] - 0.05], xaxis=xa, yaxis=ya, mode="lines", cliponaxis=False,
                                 line=dict(color="rgba(100,70,45,0.32)", width=12), showlegend=False, hoverinfo="skip"))
    for a in ARROWS:
        if a[0] == i:
            fig.add_trace(go.Scatter(x=[a[1], a[3]], y=[a[2], a[4]], xaxis=xa, yaxis=ya, mode="lines+markers", cliponaxis=False,
                                     line=dict(color="#111111", width=2.5),
                                     marker=dict(symbol=["circle", "arrow"], size=[0.1, 26], angleref="previous", color="#111111", line=dict(width=0)),
                                     showlegend=False, hoverinfo="skip"))
    ann.append(dict(text=LETTERS[i], x=px(8), y=py(LETTER_PX[i]), xref="paper", yref="paper", xanchor="left", yanchor="middle",
                    showarrow=False, font=dict(family=FONT, size=46, color="#111111", weight=700)))
    ann.append(dict(text="\u2212log\u2081\u2080(<i>p</i>)", x=px(48), y=py(YTITLE_PX[i]), xref="paper", yref="paper",
                    xanchor="center", yanchor="middle", textangle=-90, showarrow=False,
                    font=dict(family=FONT, size=64, color=INK)))
    if XTITLE[i]:
        ann.append(dict(text="Chromosome", x=px(XTITLE[i][0]), y=py(XTITLE[i][1]), xref="paper", yref="paper", xanchor="center",
                        yanchor="middle", showarrow=False, font=dict(family=FONT, size=59, color=INK)))
    for (t, lx, ly, ital) in LABELS[i]:
        ann.append(dict(text=f"<i>{t}</i>" if ital else t, x=px(lx), y=py(ly), xref="paper", yref="paper", xanchor="center",
                        yanchor="middle", showarrow=False, font=dict(family=FONT, size=36, color="#111111")))

fig.update_layout(width=W, height=H, autosize=False, margin=dict(l=0, r=0, t=0, b=0, autoexpand=False), paper_bgcolor="white", plot_bgcolor="white",
                  showlegend=False, annotations=ann, shapes=shp)
fig.write_html("out.html", post_script="document.body.style.margin='0';", config={"displayModeBar": False})
